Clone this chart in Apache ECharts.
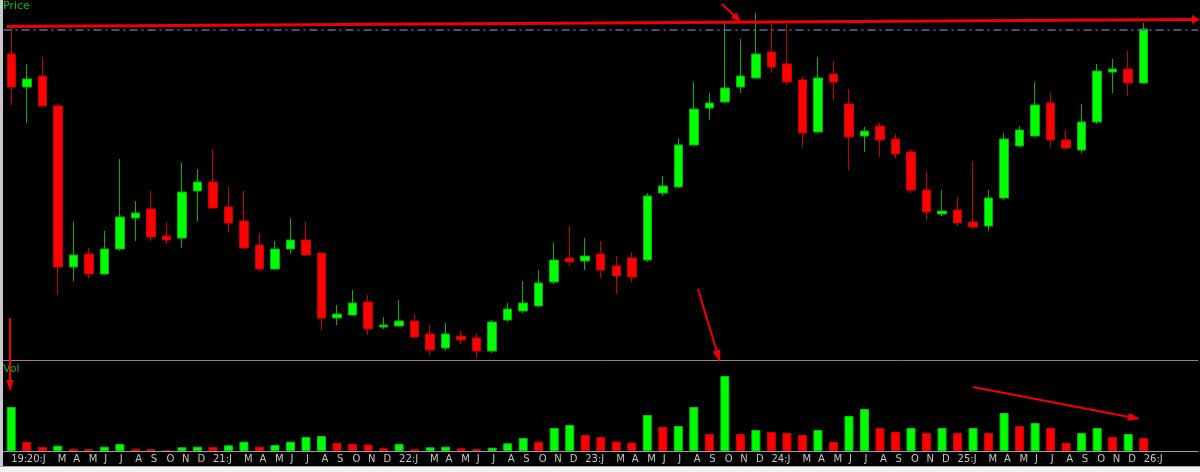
<!DOCTYPE html>
<html><head><meta charset="utf-8">
<script src="https://cdn.jsdelivr.net/npm/echarts@6/dist/echarts.min.js"></script>
<style>html,body{margin:0;padding:0;background:#000;overflow:hidden}#c{width:1200px;height:472px}</style>
</head><body><div id="c"></div>
<script>
// Monthly bars, Dec 2019 .. Jan 2026 (+3 empty future slots)
const tickLabels = ['19:','20:J','','M','A','M','J','J','A','S','O','N','D',
 '21:J','','M','A','M','J','J','A','S','O','N','D',
 '22:J','','M','A','M','J','J','A','S','O','N','D',
 '23:J','','M','A','M','J','J','A','S','O','N','D',
 '24:J','','M','A','M','J','J','A','S','O','N','D',
 '25:J','','M','A','M','J','J','A','S','O','N','D',
 '26:J','','',''];
const open  = [306,273,284,254,93,106,86,111,142,151,124,122,169,178,153,139,115,91,111,120,107,42,45,58,33,34,39,26,12,24,22,9,40,49,54,78,102,99,106,94,102,100,167,173,215,252,258,273,282,308,296,280,228,286,256,224,234,221,208,170,146,150,138,134,162,214,224,257,220,210,238,288,291,277];
const close = [273,281,254,93,105,86,111,143,147,123,120,168,178,152,137,112,91,111,120,105,42,46,57,31,35,39,23,10,26,20,9,38,51,57,77,100,98,104,90,84,83,164,174,215,251,257,272,284,306,293,278,227,282,278,223,229,220,206,170,148,149,137,133,162,221,230,255,220,212,238,289,291,277,331];
const low   = [255,237,253,65,79,82,85,109,119,119,116,112,139,151,128,111,89,90,106,104,30,35,44,25,31,33,22,5,9,16,2,7,38,47,53,76,94,90,82,66,78,98,164,172,214,240,257,267,281,287,275,213,227,260,190,208,203,202,167,140,144,134,131,129,160,213,223,213,210,207,236,267,264,276];
const high  = [332,296,303,256,139,112,129,201,159,169,138,197,191,211,173,169,127,119,142,138,107,55,70,65,43,60,46,35,37,29,27,40,57,79,90,117,134,122,119,104,108,167,184,222,278,267,337,321,347,338,336,284,303,299,271,233,237,226,211,188,170,163,199,170,227,234,278,267,230,256,296,301,309,337];
const volume = [44,9,4,5.3,2.2,2.0,4.3,7,2.2,2.0,1.0,3.7,4.3,4.0,5.7,9.3,4.3,6,9.3,14,15,8,7,6.5,2.7,7,1.7,3.7,4.3,2.7,2,3.3,7.7,13,9.3,23,26,16,14,9.5,8.5,36,24,25,44,17,75,17,21,19,18,16,21,9,35,42,23,19,23,18,23,18,23,18,38,25,28,23,8,18,23,14,17,13];
const refLevel = 330;

const UP = '#00ff00', DOWN = '#ff0000';
const candles = open.map((o, i) => [o, close[i], low[i], high[i]]);
const volBars = volume.map((v, i) => {
  const up = i === 0 || v > volume[i - 1];
  return { value: v, itemStyle: { color: up ? UP : DOWN, borderColor: up ? '#00c800' : '#d00000' } };
});

function arrow(x1, y1, x2, y2, w, head, hw) {
  const dx = x2 - x1, dy = y2 - y1, L = Math.hypot(dx, dy), ux = dx / L, uy = dy / L;
  const bx = x2 - ux * head, by = y2 - uy * head, px = -uy, py = ux;
  return [
    { type: 'line', z: 100, shape: { x1: x1, y1: y1, x2: bx + ux, y2: by + uy }, style: { stroke: '#f00000', lineWidth: w } },
    { type: 'polygon', z: 100, shape: { points: [[x2, y2], [bx + px * hw, by + py * hw], [bx - px * hw, by - py * hw]] }, style: { fill: '#f00000' } }
  ];
}

const graphics = [
  { type: 'rect', z: 90, shape: { x: 0, y: 0, width: 3, height: 466 }, style: { fill: '#c8c8cc' } },
  { type: 'rect', z: 90, shape: { x: 0, y: 466, width: 1200, height: 6 }, style: { fill: '#f2f2f2' } },
  { type: 'line', z: 90, shape: { x1: 0, y1: 466.5, x2: 1200, y2: 466.5 }, style: { stroke: '#a8a8a8', lineWidth: 1 } },
  { type: 'text', z: 95, x: 3, y: 1, style: { text: 'Price', fill: '#00c000', font: '11px "DejaVu Sans"' } },
  { type: 'text', z: 95, x: 3, y: 364, style: { text: 'Vol', fill: '#00c000', font: '11px "DejaVu Sans"' } }
].concat(
  arrow(7, 26.5, 1200, 19.5, 3, 8, 4.5),
  arrow(722, 4, 741, 22, 2, 10, 4),
  arrow(698, 289, 720, 362, 2, 12, 4),
  arrow(10, 318, 10, 392, 2, 12, 3.5),
  arrow(973, 387, 1140, 419, 2, 12, 4)
);

const chart = echarts.init(document.getElementById('c'));
chart.setOption({
  backgroundColor: '#000',
  animation: false,
  grid: [
    { left: 3.5, right: 2, top: 0, height: 360 },
    { left: 3.5, right: 2, top: 362, height: 89 }
  ],
  xAxis: [
    { type: 'category', gridIndex: 0, data: tickLabels,
      axisLine: { show: true, lineStyle: { color: '#9c7c8c', width: 1 } },
      axisTick: { show: false }, axisLabel: { show: false }, splitLine: { show: false } },
    { type: 'category', gridIndex: 1, data: tickLabels,
      axisLine: { show: true, lineStyle: { color: '#a0a0a0', width: 1 } },
      axisTick: { show: false }, splitLine: { show: false },
      axisLabel: { interval: 0, align: 'left', color: '#c8c8c8', fontSize: 10, fontFamily: 'DejaVu Sans', margin: 3 } }
  ],
  yAxis: [
    { type: 'value', gridIndex: 0, min: 0, max: 360, show: false, splitLine: { show: false } },
    { type: 'value', gridIndex: 1, min: 0, max: 89, show: false, splitLine: { show: false } }
  ],
  series: [
    { type: 'candlestick', xAxisIndex: 0, yAxisIndex: 0, data: candles, barWidth: 9,
      itemStyle: { color: UP, color0: DOWN, borderColor: '#00b400', borderColor0: '#c80000', borderWidth: 1 },
      markLine: { silent: true, symbol: 'none', label: { show: false },
        lineStyle: { color: '#6464aa', type: [8, 4, 2, 4], width: 1.5 },
        data: [{ yAxis: refLevel }] } },
    { type: 'bar', xAxisIndex: 1, yAxisIndex: 1, data: volBars, barWidth: 9,
      itemStyle: { borderWidth: 1 } }
  ],
  graphic: graphics
});
</script></body></html>
